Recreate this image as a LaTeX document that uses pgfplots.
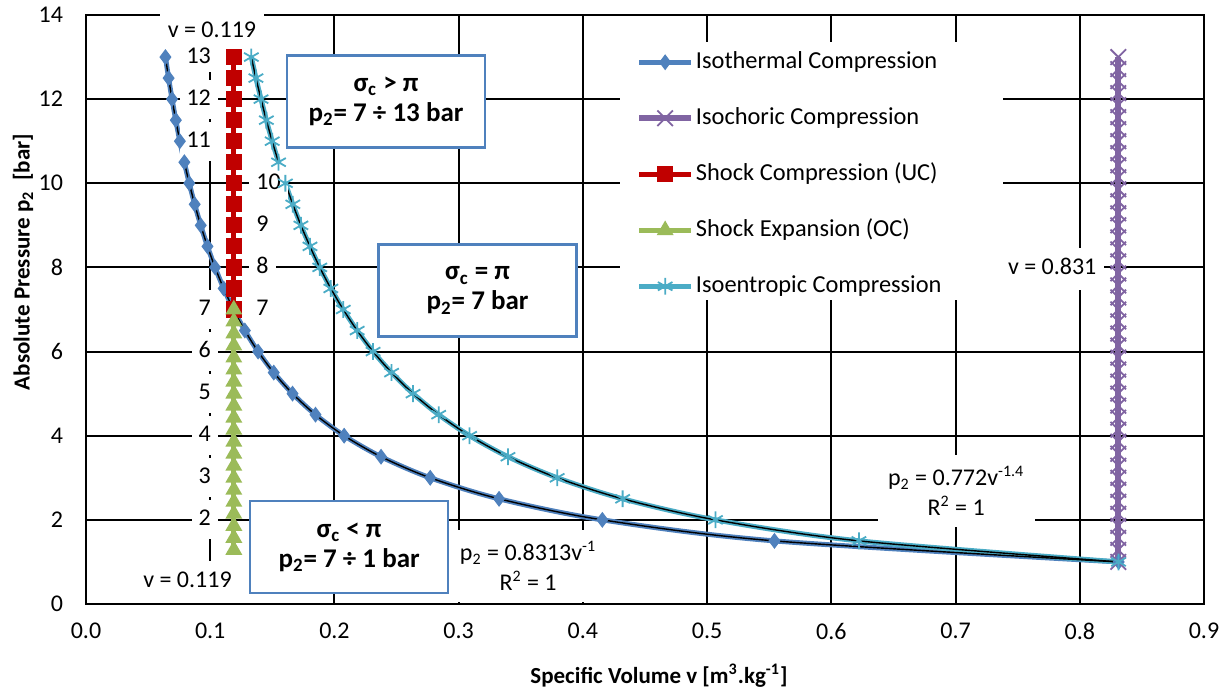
\documentclass[border=0pt]{standalone}
\usepackage{fontspec}
\setmainfont{Carlito}
\usepackage{pgfplots}
\pgfplotsset{compat=1.18}
\definecolor{isoT}{RGB}{79,129,189}
\definecolor{isoC}{RGB}{128,100,162}
\definecolor{shockC}{RGB}{192,0,0}
\definecolor{shockE}{RGB}{155,187,89}
\definecolor{isoS}{RGB}{75,172,198}
\definecolor{boxB}{RGB}{79,129,189}
\begin{document}
\begin{tikzpicture}
\useasboundingbox (-43pt,-42pt) rectangle (570.5pt,302pt);
\begin{axis}[
  scale only axis, width=559pt, height=294.5pt,
  xmin=0, xmax=0.9, ymin=0, ymax=14, clip=false,
  xtick={0,0.1,0.2,0.3,0.4,0.5,0.6,0.7,0.8,0.9},
  xticklabels={0.0,0.1,0.2,0.3,0.4,0.5,0.6,0.7,0.8,0.9},
  ytick={0,2,4,6,8,10,12,14},
  major tick length=0pt,
  grid=major, major grid style={black, line width=1pt},
  axis line style={black, line width=1.4pt},
  tick label style={font=\fontsize{12}{14}\selectfont},
  /pgf/number format/assume math mode=true,
  xticklabel style={yshift=-6pt},
  yticklabel style={xshift=-8pt},
  xlabel={Specific Volume v [m\textsuperscript{3}.kg\textsuperscript{-1}]},
  ylabel={Absolute Pressure p\textsubscript{2}\ \ [bar]},
  label style={font=\bfseries\fontsize{11.5}{13}\selectfont},
  xlabel style={at={(axis description cs:0.5125,-0.1222)}, anchor=center},
  ylabel style={at={(axis description cs:-0.0563,0.5806)}, anchor=center},
  legend style={font=\fontsize{12.2}{14}\selectfont, draw=none, fill=none,
    at={(axis description cs:0.4776,0.951)}, anchor=north west,
    inner xsep=8pt, inner ysep=2pt, row sep=14pt,
    nodes={inner sep=1pt, text height=9pt, text depth=3pt}},
  legend cell align=left,
  legend image code/.code={\draw[mark repeat=2,mark phase=2,#1] plot coordinates {(0pt,0pt) (13pt,0pt) (26pt,0pt)};},
]
% white area behind legend
\fill[white] (axis description cs:0.4776,0.5161) rectangle (axis description cs:0.8202,0.9542);

% Isothermal compression
\addplot[isoT, line width=2.5pt, smooth, mark=diamond*, mark size=3.6pt, mark options={solid, fill=isoT, draw=isoT, line width=0.5pt}]
coordinates {
(0.06395,13) (0.06650,12.5) (0.06928,12) (0.07229,11.5) (0.07557,11) (0.07917,10.5)
(0.08313,10) (0.08751,9.5) (0.09237,9) (0.09780,8.5) (0.10391,8) (0.11084,7.5)
(0.11876,7) (0.12789,6.5) (0.13855,6) (0.15115,5.5) (0.16626,5) (0.18473,4.5)
(0.20783,4) (0.23751,3.5) (0.27710,3) (0.33252,2.5) (0.41565,2) (0.55420,1.5) (0.8313,1)
};
\addlegendentry{Isothermal Compression}

% Isochoric compression
\addplot[isoC, line width=2.8pt, mark=x, mark size=5.5pt, mark options={solid, line width=0.9pt}]
coordinates {
(0.831,1) (0.831,1.2857) (0.831,1.5714) (0.831,1.8571) (0.831,2.1429) (0.831,2.4286)
(0.831,2.7143) (0.831,3) (0.831,3.2857) (0.831,3.5714) (0.831,3.8571) (0.831,4.1429)
(0.831,4.4286) (0.831,4.7143) (0.831,5) (0.831,5.2857) (0.831,5.5714) (0.831,5.8571)
(0.831,6.1429) (0.831,6.4286) (0.831,6.7143) (0.831,7) (0.831,7.2857) (0.831,7.5714)
(0.831,7.8571) (0.831,8.1429) (0.831,8.4286) (0.831,8.7143) (0.831,9) (0.831,9.2857)
(0.831,9.5714) (0.831,9.8571) (0.831,10.1429) (0.831,10.4286) (0.831,10.7143) (0.831,11)
(0.831,11.2857) (0.831,11.5714) (0.831,11.8571) (0.831,12.1429) (0.831,12.4286) (0.831,12.7143) (0.831,13)
};
\addlegendentry{Isochoric Compression}

% Shock compression (UC)
\addplot[shockC, line width=2.5pt, mark=square*, mark size=2.8pt, mark options={solid, fill=shockC, draw=shockC}]
coordinates {
(0.119,7) (0.119,7.5) (0.119,8) (0.119,8.5) (0.119,9) (0.119,9.5) (0.119,10)
(0.119,10.5) (0.119,11) (0.119,11.5) (0.119,12) (0.119,12.5) (0.119,13)
};
\addlegendentry{Shock Compression (UC)}

% Shock expansion (OC)
\addplot[shockE, line width=2.5pt, mark=triangle*, mark size=2.4pt, mark options={solid, fill=shockE, draw=shockE}]
coordinates {
(0.119,7) (0.119,6.7143) (0.119,6.4286) (0.119,6.1429) (0.119,5.8571) (0.119,5.5714)
(0.119,5.2857) (0.119,5) (0.119,4.7143) (0.119,4.4286) (0.119,4.1429) (0.119,3.8571)
(0.119,3.5714) (0.119,3.2857) (0.119,3) (0.119,2.7143) (0.119,2.4286) (0.119,2.1429)
(0.119,1.8571) (0.119,1.5714) (0.119,1.2857)
};
\addlegendentry{Shock Expansion (OC)}

% Isentropic compression
\addplot[isoS, line width=2.5pt, smooth, mark=asterisk, mark size=4.2pt, mark options={solid, line width=0.9pt}]
coordinates {
(0.1331,13) (0.1368,12.5) (0.1409,12) (0.1452,11.5) (0.1499,11) (0.1550,10.5)
(0.1605,10) (0.1665,9.5) (0.1730,9) (0.1803,8.5) (0.1882,8) (0.1971,7.5)
(0.2071,7) (0.2183,6.5) (0.2311,6) (0.2460,5.5) (0.2633,5) (0.2839,4.5)
(0.3088,4) (0.3397,3.5) (0.3793,3) (0.4320,2.5) (0.5067,2) (0.6222,1.5) (0.8312,1)
};
\addlegendentry{Isoentropic Compression}

% Power trend lines
\addplot[black, line width=0.7pt, smooth, forget plot]
coordinates {
(0.06395,13) (0.06650,12.5) (0.06928,12) (0.07229,11.5) (0.07557,11) (0.07917,10.5)
(0.08313,10) (0.08751,9.5) (0.09237,9) (0.09780,8.5) (0.10391,8) (0.11084,7.5)
(0.11876,7) (0.12789,6.5) (0.13855,6) (0.15115,5.5) (0.16626,5) (0.18473,4.5)
(0.20783,4) (0.23751,3.5) (0.27710,3) (0.33252,2.5) (0.41565,2) (0.55420,1.5) (0.8313,1)
};
\addplot[black, line width=0.7pt, smooth, forget plot]
coordinates {
(0.1331,13) (0.1368,12.5) (0.1409,12) (0.1452,11.5) (0.1499,11) (0.1550,10.5)
(0.1605,10) (0.1665,9.5) (0.1730,9) (0.1803,8.5) (0.1882,8) (0.1971,7.5)
(0.2071,7) (0.2183,6.5) (0.2311,6) (0.2460,5.5) (0.2633,5) (0.2839,4.5)
(0.3088,4) (0.3397,3.5) (0.3793,3) (0.4320,2.5) (0.5067,2) (0.6222,1.5) (0.8312,1)
};

% v labels
\tikzset{vl/.style={fill=white, inner xsep=4pt, inner ysep=5pt, text height=8.5pt, text depth=2.5pt, font=\fontsize{12}{14}\selectfont}}
\node[vl] at (axis cs:0.1014,13.6) {v = 0.119};
\node[vl] at (axis cs:0.0817,0.523) {v = 0.119};
\node[vl] at (axis cs:0.7778,7.963) {v = 0.831};

% data labels
\tikzset{dl/.style={fill=white, inner xsep=3.5pt, inner ysep=4.3pt, text height=8.5pt, text depth=2.5pt, font=\fontsize{12}{14}\selectfont}}
\node[dl, anchor=east, inner ysep=2.2pt] at (axis cs:0.1065,13) {13};
\node[dl, anchor=east] at (axis cs:0.1065,12) {12};
\node[dl, anchor=east] at (axis cs:0.1065,11) {11};
\node[dl, anchor=east] at (axis cs:0.1065,7) {7};
\node[dl, anchor=east] at (axis cs:0.1065,6) {6};
\node[dl, anchor=east] at (axis cs:0.1065,5) {5};
\node[dl, anchor=east] at (axis cs:0.1065,4) {4};
\node[dl, anchor=east] at (axis cs:0.1065,3) {3};
\node[dl, anchor=east] at (axis cs:0.1065,2) {2};
\node[dl, anchor=west] at (axis cs:0.1312,10) {10};
\node[dl, anchor=west] at (axis cs:0.1312,9) {9};
\node[dl, anchor=west] at (axis cs:0.1312,8) {8};
\node[dl, anchor=west] at (axis cs:0.1312,7) {7};

% trendline equations
\tikzset{tl/.style={fill=white, align=center, minimum width=78.5pt, minimum height=36pt, inner sep=2pt, font=\fontsize{12}{15}\selectfont}}
\node[tl] at (axis cs:0.3559,0.90) {p\textsubscript{2} = 0.8313v\textsuperscript{-1}\\R\textsuperscript{2} = 1};
\node[tl] at (axis cs:0.7005,2.686) {p\textsubscript{2} = 0.772v\textsuperscript{-1.4}\\R\textsuperscript{2} = 1};

% region boxes
\tikzset{rb/.style={draw=boxB, line width=1.1pt, fill=white, align=center, minimum width=99pt, minimum height=46pt, inner sep=2pt, font=\bfseries\fontsize{13.5}{15}\selectfont}}
\node[rb] at (axis cs:0.2415,11.944) {σ\textsubscript{c} > π\\p\textsubscript{2}= 7 ÷ 13 bar};
\node[rb] at (axis cs:0.3152,7.452) {σ\textsubscript{c} = π\\p\textsubscript{2}= 7 bar};
\node[rb] at (axis cs:0.2118,1.355) {σ\textsubscript{c} < π\\p\textsubscript{2}= 7 ÷ 1 bar};
\end{axis}
\end{tikzpicture}
\end{document}
